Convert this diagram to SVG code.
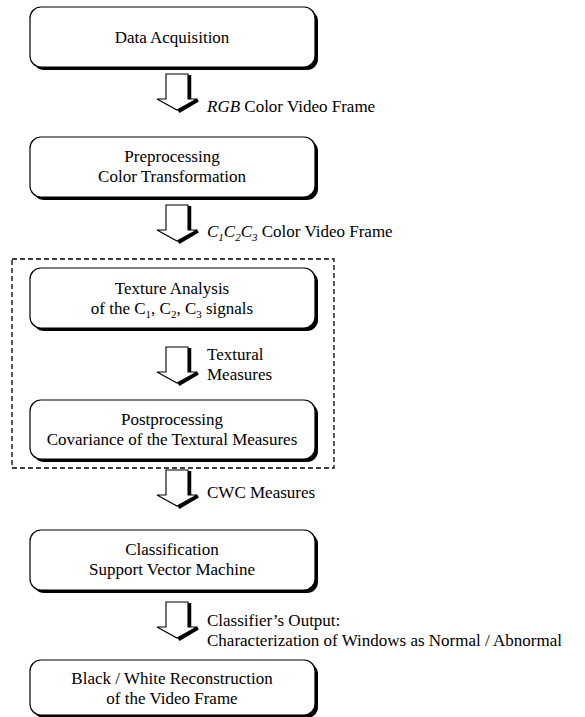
<svg xmlns="http://www.w3.org/2000/svg" width="585" height="717" viewBox="0 0 585 717">
<defs>
<style>
.sh{fill:#000}
.bx{fill:#fff;stroke:#000;stroke-width:1.2}
.t{font-family:"Liberation Serif","Times New Roman",serif;font-size:17px;fill:#000}
.c{text-anchor:middle}
.ar{fill:#fff;stroke:#000;stroke-width:1.1;stroke-linejoin:miter}
.as{fill:none;stroke:#000;stroke-width:3.5}
</style>
<g id="arrowShape">
<path class="as" d="M12.5,1 V25.5 M21,26 L1.5,37.5"/>
<path class="ar" d="M-11,0 H11 V25 H20 L0,36 L-20,25 H-11 Z"/>
</g>
</defs>
<rect width="585" height="717" fill="#fff"/>
<g id="connectors">
<use href="#arrowShape" x="177" y="74"/>
<use href="#arrowShape" x="177" y="205"/>
<use href="#arrowShape" x="177" y="347"/>
<use href="#arrowShape" x="177" y="470"/>
<use href="#arrowShape" x="177" y="602"/>
<rect x="12" y="259" width="322" height="209" fill="none" stroke="#000" stroke-width="1.3" stroke-dasharray="5,3"/>
<text class="t" x="207" y="112"><tspan font-style="italic">RGB</tspan> Color Video Frame</text>
<text class="t" x="207" y="237"><tspan font-style="italic">C<tspan font-size="11" dy="4">1</tspan><tspan dy="-4">C</tspan><tspan font-size="11" dy="4">2</tspan><tspan dy="-4">C</tspan><tspan font-size="11" dy="4">3</tspan></tspan><tspan dy="-4"> Color Video Frame</tspan></text>
<text class="t" x="207" y="360">Textural</text>
<text class="t" x="207" y="380">Measures</text>
<text class="t" x="207" y="498">CWC Measures</text>
<text class="t" x="207" y="626">Classifier’s Output:</text>
<text class="t" x="207" y="646">Characterization of Windows as Normal / Abnormal</text>
</g>
<g id="n1">
<rect class="sh" x="33" y="10" width="285" height="60" rx="11"/>
<rect class="bx" x="30" y="7" width="285" height="60" rx="11"/>
<text class="t c" x="172" y="43">Data Acquisition</text>
</g>
<g id="n2">
<rect class="sh" x="33" y="140" width="285" height="60" rx="11"/>
<rect class="bx" x="30" y="137" width="285" height="60" rx="11"/>
<text class="t c" x="172" y="162">Preprocessing</text>
<text class="t c" x="172" y="182">Color Transformation</text>
</g>
<g id="n3">
<rect class="sh" x="33" y="271" width="285" height="60" rx="11"/>
<rect class="bx" x="30" y="268" width="285" height="60" rx="11"/>
<text class="t c" x="172" y="294">Texture Analysis</text>
<text class="t c" x="172" y="314">of the C<tspan font-size="11" dy="4">1</tspan><tspan dy="-4">, C</tspan><tspan font-size="11" dy="4">2</tspan><tspan dy="-4">, C</tspan><tspan font-size="11" dy="4">3</tspan><tspan dy="-4"> signals</tspan></text>
</g>
<g id="n4">
<rect class="sh" x="33" y="403" width="285" height="59" rx="11"/>
<rect class="bx" x="30" y="400" width="285" height="59" rx="11"/>
<text class="t c" x="172" y="425">Postprocessing</text>
<text class="t c" x="172" y="445">Covariance of the Textural Measures</text>
</g>
<g id="n5">
<rect class="sh" x="33" y="533" width="285" height="60" rx="11"/>
<rect class="bx" x="30" y="530" width="285" height="60" rx="11"/>
<text class="t c" x="172" y="555">Classification</text>
<text class="t c" x="172" y="575">Support Vector Machine</text>
</g>
<g id="n6">
<rect class="sh" x="33" y="663" width="285" height="55" rx="11"/>
<rect class="bx" x="30" y="660" width="285" height="55" rx="11"/>
<text class="t c" x="172" y="684">Black / White Reconstruction</text>
<text class="t c" x="172" y="704">of the Video Frame</text>
</g>
</svg>
